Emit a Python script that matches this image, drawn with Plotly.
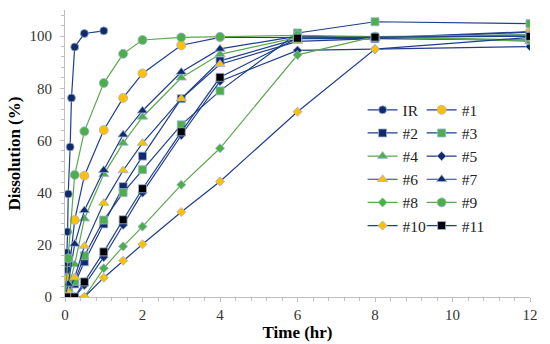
import plotly.graph_objects as go

# ---- data ----
t_ir = [0, 0.017, 0.025, 0.033, 0.042, 0.05, 0.067, 0.083, 0.133, 0.167, 0.25, 0.5, 1]
ir = [0, 4.5, 7, 10.5, 13, 17, 25, 39.5, 57.5, 76.3, 95.8, 101, 102]

t = [0, 0.083, 0.25, 0.5, 1, 1.5, 2, 3, 4, 6, 8, 12]
s1 = [0, 7, 29.5, 46.5, 64, 76.3, 85.7, 96.5, 99.5, 99.5, 99.3, 101.7]
s2 = [0, 1.5, 5, 13.5, 28, 42.3, 54, 76, 90.5, 99, 99, 98.5]
s3 = [0, 2, 6, 15.8, 29.5, 40, 48.8, 66, 79, 101.2, 105.5, 104.8]
s4 = [0, 3, 12.5, 30, 47, 59, 69, 84, 93, 99.5, 99.8, 98]
s5 = [0, 0, 0, 4.5, 15.3, 27.6, 40, 62, 82.7, 94.5, 95, 96]
s6 = [0, 2, 7.5, 19.5, 36, 48.5, 59, 76, 89.2, 98, 99, 101.5]
s7 = [0, 5, 20.3, 33.2, 48.6, 62.2, 71.4, 86.2, 95.1, 100, 99.5, 100.5]
s8 = [0, 0, 0, 0, 11, 19.4, 27, 43, 57, 92.8, 99.8, 100.5]
s9 = [0, 14.8, 46.8, 63.5, 82, 93.2, 98.5, 99.5, 99.7, 100.3, 99.8, 98.5]
s10 = [0, 0, 0, 0, 7.4, 13.9, 20.2, 32.6, 44.3, 71, 95, 99.5]
s11 = [0, 0, 0, 5.8, 17.3, 29.6, 41.5, 63.3, 84.2, 99.2, 99.6, 99.9]

names = ["IR", "#1", "#2", "#3", "#4", "#5", "#6", "#7", "#8", "#9", "#10", "#11"]
xs = [t_ir] + [t] * 11
ys = [ir, s1, s2, s3, s4, s5, s6, s7, s8, s9, s10, s11]

NAVY = "#102A6B"
LNAVY = "#1F3F8C"
GREEN = "#4DAF4A"
LGREEN = "#5CA84E"
YEL = "#FFC000"
BLK = "#000000"

# (marker symbol, marker colour, line colour, size)
styles = [
    ("circle", NAVY, LNAVY, 8),
    ("circle", YEL, LNAVY, 9),
    ("square", NAVY, LNAVY, 8),
    ("square", GREEN, LNAVY, 8),
    ("triangle-up", GREEN, LGREEN, 9),
    ("diamond", NAVY, LNAVY, 7),
    ("triangle-up", YEL, LNAVY, 9),
    ("triangle-up", NAVY, LNAVY, 9),
    ("diamond", GREEN, LGREEN, 7),
    ("circle", GREEN, LGREEN, 9),
    ("diamond", YEL, LNAVY, 7),
    ("square", BLK, LNAVY, 8),
]

fig = go.Figure()
for i, (nm, x, y, st) in enumerate(zip(names, xs, ys, styles)):
    sym, mc, lc, sz = st
    fig.add_trace(go.Scatter(
        x=x, y=y, name=nm, mode="lines+markers",
        line=dict(color=lc, width=1.2),
        marker=dict(symbol=sym, color=mc, size=sz,
                    line=dict(color="#9FB3D6", width=0.8)),
        legend="legend" if i % 2 == 0 else "legend2",
    ))

FONT = "Liberation Serif"
leg_common = dict(
    font=dict(family=FONT, size=15.5, color="#222"),
    bgcolor="rgba(0,0,0,0)", borderwidth=0,
    itemwidth=30, yanchor="top", xanchor="left", tracegroupgap=0,
)

fig.update_layout(
    width=550, height=344,
    margin=dict(l=65, r=20, t=10, b=47, autoexpand=False),
    paper_bgcolor="white", plot_bgcolor="white",
    font=dict(family=FONT, color="#333"),
    legend=dict(x=0.64, y=0.71, **leg_common),
    legend2=dict(x=0.767, y=0.71, **leg_common),
    xaxis=dict(
        range=[0, 12], tickvals=[0, 2, 4, 6, 8, 10, 12],
        automargin=False,
        showgrid=False, zeroline=False,
        showline=True, linecolor="#BFBFBF", linewidth=1,
        ticks="outside", ticklen=4, tickcolor="#BFBFBF",
        minor=dict(dtick=0.4, ticks="outside", ticklen=3, tickcolor="#BFBFBF", showgrid=False),
        tickfont=dict(family=FONT, size=15, color="#333"),
        title=dict(text="<b>Time (hr)</b>", font=dict(family=FONT, size=17, color="#000"), standoff=0),
    ),
    yaxis=dict(
        range=[0, 110], tickvals=[0, 20, 40, 60, 80, 100],
        automargin=False,
        showgrid=False, zeroline=False,
        showline=True, linecolor="#BFBFBF", linewidth=1,
        ticks="outside", ticklen=4, tickcolor="#BFBFBF",
        ticklabelstandoff=5,
        minor=dict(dtick=4, ticks="outside", ticklen=3, tickcolor="#BFBFBF", showgrid=False),
        tickfont=dict(family=FONT, size=15, color="#333"),
        title=dict(text="<b>Dissolution (%)</b>", font=dict(family=FONT, size=17, color="#000"), standoff=4),
    ),
)

fig.write_html("out.html", config={"displayModeBar": False},
               post_script="document.body.style.margin='0';document.body.style.padding='0';")
